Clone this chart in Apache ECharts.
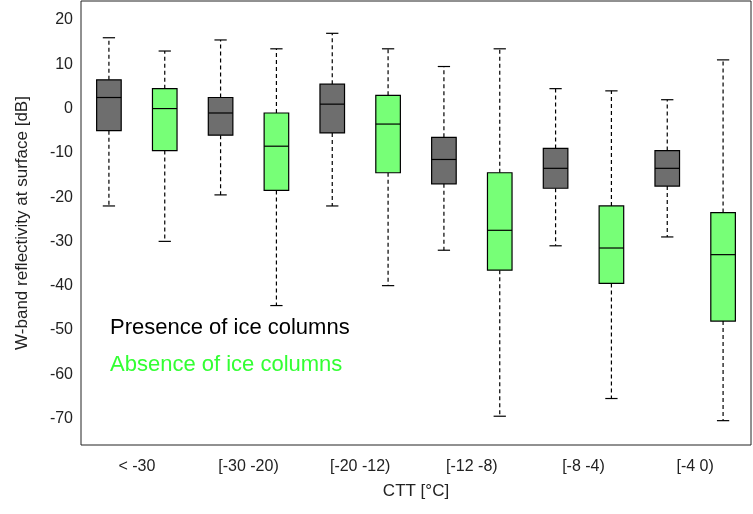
<!DOCTYPE html>
<html>
<head>
<meta charset="utf-8">
<script src="https://cdn.jsdelivr.net/npm/echarts@6/dist/echarts.min.js"></script>
<style>html,body{margin:0;padding:0;background:#fff}#c{width:753px;height:514px}</style>
</head>
<body>
<div id="c"></div>
<script>
var categories = ['< -30', '[-30 -20)', '[-20 -12)', '[-12 -8)', '[-8 -4)', '[-4 0)'];
// [min, q1, median, q3, max]
var presence = [
  [-22, -5, 2.5, 6.5, 16],
  [-19.5, -6, -1, 2.5, 15.5],
  [-22, -5.5, 1, 5.5, 17],
  [-32, -17, -11.5, -6.5, 9.5],
  [-31, -18, -13.5, -9, 4.5],
  [-29, -17.5, -13.5, -9.5, 2]
];
var absence = [
  [-30, -9.5, 0, 4.5, 13],
  [-44.5, -18.5, -8.5, -1, 13.5],
  [-40, -14.5, -3.5, 3, 13.5],
  [-69.5, -36.5, -27.5, -14.5, 13.5],
  [-65.5, -39.5, -31.5, -22, 4],
  [-70.5, -48, -33, -23.5, 11]
];
var yTicks = [-70, -60, -50, -40, -30, -20, -10, 0, 10, 20];

function boxRenderer(fill, shift) {
  return function (params, api) {
    var i = api.value(0);
    var band = api.size([1, 0])[0];
    var cx = api.coord([i, 0])[0] + shift * band;
    var w = band * 0.22, cap = w * 0.5;
    var y = function (k) { return api.coord([i, api.value(k)])[1]; };
    var pMin = y(1), pQ1 = y(2), pMed = y(3), pQ3 = y(4), pMax = y(5);
    var solid = { stroke: '#000', lineWidth: 1.2 };
    var dash = { stroke: '#000', lineWidth: 1.2, lineDash: [4, 3] };
    return {
      type: 'group',
      children: [
        { type: 'line', shape: { x1: cx, y1: pQ3, x2: cx, y2: pMax }, style: dash },
        { type: 'line', shape: { x1: cx, y1: pQ1, x2: cx, y2: pMin }, style: dash },
        { type: 'line', shape: { x1: cx - cap / 2, y1: pMax, x2: cx + cap / 2, y2: pMax }, style: solid },
        { type: 'line', shape: { x1: cx - cap / 2, y1: pMin, x2: cx + cap / 2, y2: pMin }, style: solid },
        { type: 'rect', shape: { x: cx - w / 2, y: pQ3, width: w, height: pQ1 - pQ3 }, style: { fill: fill, stroke: '#000', lineWidth: 1.2 } },
        { type: 'line', shape: { x1: cx - w / 2, y1: pMed, x2: cx + w / 2, y2: pMed }, style: solid }
      ]
    };
  };
}
function toData(arr) { return arr.map(function (d, i) { return [i].concat(d); }); }

var chart = echarts.init(document.getElementById('c'));
chart.setOption({
  animation: false,
  textStyle: { fontFamily: 'Arial, Liberation Sans, sans-serif' },
  grid: { left: 81, right: 2, top: 1, bottom: 69, show: true, borderColor: '#222', borderWidth: 1, backgroundColor: 'transparent' },
  xAxis: [{
    type: 'category', data: categories,
    name: 'CTT [°C]', nameLocation: 'middle', nameGap: 38,
    nameTextStyle: { fontSize: 17, color: '#222' },
    axisLine: { show: false },
    axisTick: { inside: true, alignWithLabel: true, length: 6, lineStyle: { color: '#222' } },
    axisLabel: { fontSize: 16, color: '#222', margin: 14 }
  }, {
    type: 'category', data: categories, position: 'top',
    axisLine: { show: false },
    axisTick: { inside: true, alignWithLabel: true, length: 6, lineStyle: { color: '#222' } },
    axisLabel: { show: false }
  }],
  yAxis: {
    type: 'value', min: -76, max: 24.3, minInterval: 10, maxInterval: 10,
    name: 'W-band reflectivity at surface [dB]', nameLocation: 'middle', nameGap: 50,
    nameTextStyle: { fontSize: 17, color: '#222' },
    axisLine: { show: false },
    axisTick: { show: false },
    splitLine: { show: false },
    axisLabel: { fontSize: 16, color: '#222', showMinLabel: false, showMaxLabel: false,
      formatter: function (v) { return yTicks.indexOf(v) >= 0 ? v : ''; } }
  },
  graphic: [
    { type: 'text', left: 110, top: 317, style: { text: 'Presence of ice columns', fontSize: 22, fill: '#000', fontFamily: 'Arial, Liberation Sans, sans-serif' } },
    { type: 'text', left: 110, top: 354, style: { text: 'Absence of ice columns', fontSize: 22, fill: '#33ff33', fontFamily: 'Arial, Liberation Sans, sans-serif' } }
  ],
  series: [
    { type: 'custom', name: 'Presence', renderItem: boxRenderer('#6e6e6e', -0.25), encode: { x: 0, y: [1, 2, 3, 4, 5] }, data: toData(presence) },
    { type: 'custom', name: 'Absence', renderItem: boxRenderer('#77ff77', 0.25), encode: { x: 0, y: [1, 2, 3, 4, 5] }, data: toData(absence) }
  ]
});
</script>
</body>
</html>
